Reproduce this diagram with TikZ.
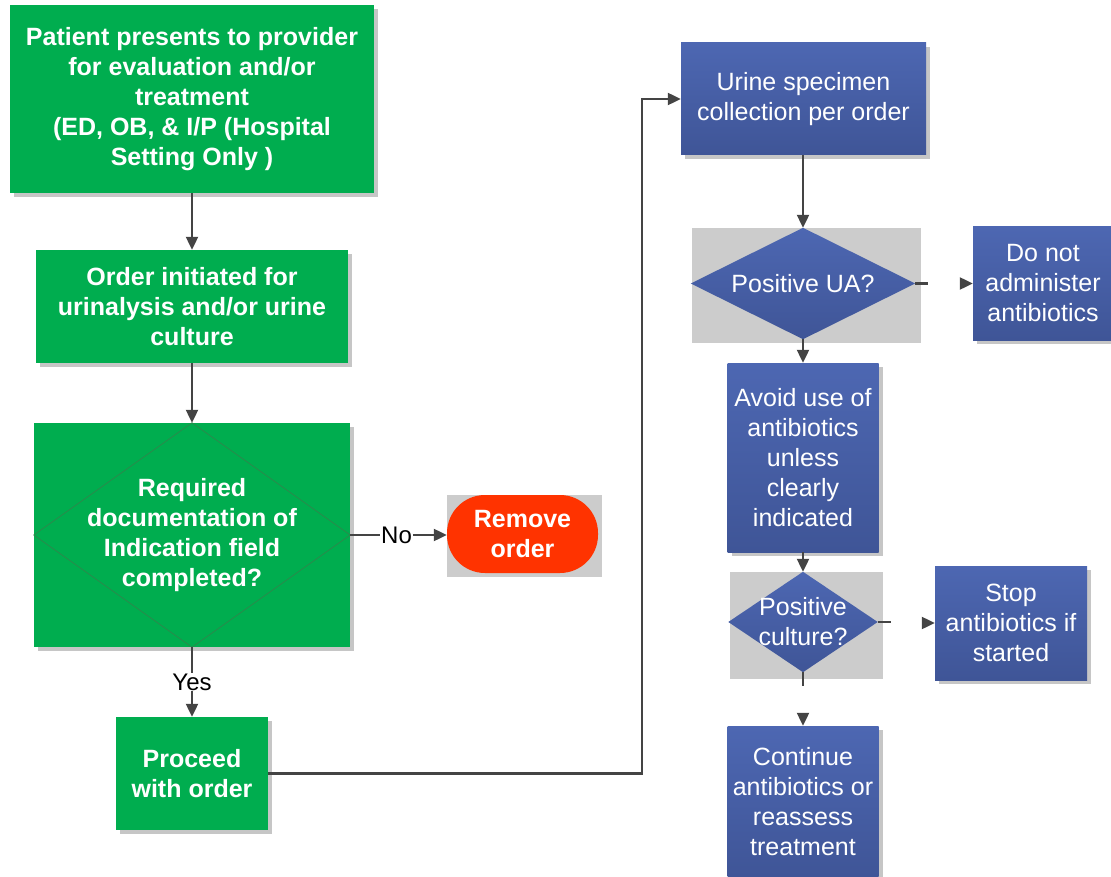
\documentclass[tikz,border=0pt]{standalone}
\usepackage{fontspec}
\setmainfont{Liberation Sans}
\usepackage{xcolor}
\usepackage{tikz}
\usetikzlibrary{arrows.meta,positioning,shadows,backgrounds}

\definecolor{boxgreen}{HTML}{00AD4F}
\definecolor{diagreen}{HTML}{2A8A4C}
\definecolor{bluetop}{HTML}{4D67B2}
\definecolor{bluebot}{HTML}{3F5597}
\definecolor{bggrey}{HTML}{CCCCCC}
\definecolor{stopred}{HTML}{FF3300}
\definecolor{linegrey}{HTML}{444444}

\begin{document}
\begin{tikzpicture}[
    x=1pt, y=-1pt,
    txt/.style={font=\fontsize{25}{30}\selectfont, text=white, align=center, inner sep=0pt},
    greenbox/.style={txt, font=\fontsize{25}{30}\selectfont\bfseries, rectangle, fill=boxgreen,
        drop shadow={shadow xshift=4pt, shadow yshift=-4pt, fill=gray!45, opacity=1}},
    bluebox/.style={txt, rectangle, top color=bluetop, bottom color=bluebot,
        drop shadow={shadow xshift=4pt, shadow yshift=-4pt, fill=gray!45, opacity=1}},
    decision/.style={txt, rectangle},
    greybg/.style={rectangle, fill=bggrey, inner sep=0pt},
    arrow/.style={-{Triangle[length=13pt, width=12pt]}, line width=2.2pt, draw=linegrey},
    plainline/.style={line width=2.2pt, draw=linegrey},
    lbl/.style={font=\fontsize{24}{30}\selectfont, text=black, fill=white, inner sep=1pt},
]
\useasboundingbox (0,0) rectangle (1111,877);

% === LEFT COLUMN ===
\node[greenbox, minimum width=364pt, minimum height=188pt] (patient) at (192,99)
    {Patient presents to provider\\for evaluation and/or\\treatment\\(ED, OB, \& I/P (Hospital\\Setting Only )};
\node[greenbox, minimum width=312pt, minimum height=113pt] (order) at (192,306.5)
    {Order initiated for\\urinalysis and/or urine\\culture};
\node[greenbox, minimum width=316pt, minimum height=224pt, drop shadow={opacity=0}] (req) at (192,535)
    {Required\\documentation of\\Indication field\\completed?};
\draw[diagreen, line width=0.8pt] (req.north) -- (req.east) -- (req.south) -- (req.west) -- cycle;

\node[greybg, minimum width=155pt, minimum height=82pt] (removebg) at (524.5,536) {};
\node[txt, font=\fontsize{25}{30}\selectfont\bfseries, fill=stopred, rounded corners=38pt,
    minimum width=151pt, minimum height=78pt] (remove) at (522.5,534) {Remove\\order};

\node[greenbox, minimum width=152pt, minimum height=113pt] (proceed) at (192,773.5)
    {Proceed\\with order};

\draw[arrow] (patient) -- (order);
\draw[arrow] (order.south) -- (req.north);
\draw[arrow] (req.east) -- (req.east -| remove.west) node[lbl, pos=0.48] {No};
\draw[arrow] (req.south) -- (proceed.north) node[lbl, midway] {Yes};

% === RIGHT COLUMN ===
\node[bluebox, minimum width=245pt, minimum height=112pt] (urine) at (803.5,99)
    {Urine specimen\\collection per order};

\node[decision, minimum width=224pt, minimum height=111pt] (ua) at (803,283.5) {Positive UA?};
\node[bluebox, minimum width=140pt, minimum height=113pt] (donot) at (1043,283.5)
    {Do not\\administer\\antibiotics};

\node[bluebox, minimum width=151pt, minimum height=189pt] (avoid) at (803,457.5)
    {Avoid use of\\antibiotics\\unless\\clearly\\indicated};

\node[decision, minimum width=149pt, minimum height=100pt] (cult) at (803,622) {Positive\\culture?};
\node[bluebox, minimum width=152pt, minimum height=114pt] (stop) at (1011,623)
    {Stop\\antibiotics if\\started};

\node[bluebox, minimum width=151pt, minimum height=152pt] (cont) at (803,802)
    {Continue\\antibiotics or\\reassess\\treatment};

\begin{scope}[on background layer]
    \node[greybg, minimum width=229pt, minimum height=115pt] (uabg) at (806.5,285.5) {};
    \shade[top color=bluetop, bottom color=bluebot] (ua.north) -- (ua.east) -- (ua.south) -- (ua.west) -- cycle;
    \node[greybg, minimum width=153pt, minimum height=107pt] (cultbg) at (806.5,625.5) {};
    \shade[top color=bluetop, bottom color=bluebot] (cult.north) -- (cult.east) -- (cult.south) -- (cult.west) -- cycle;
\end{scope}

\coordinate (bend) at (642,400);
\draw[arrow] (proceed.east) -| (bend) |- (urine.west);

\draw[arrow] (urine.south -| ua.north) -- (ua.north);
\draw[plainline] (ua.east) -- ++(13,0);
\draw[arrow] ([xshift=-11pt]donot.west) -- (donot.west);
\draw[arrow] (ua.south) -- (avoid.north);
\draw[arrow] (avoid.south) -- (cult.north);
\draw[plainline] (cult.east) -- ++(13,0);
\draw[arrow] ([xshift=-12pt]stop.west) -- (stop.west);
\draw[plainline] (cult.south) -- ++(0,14);
\draw[arrow] ([yshift=10pt]cont.north) -- (cont.north);

\end{tikzpicture}
\end{document}
